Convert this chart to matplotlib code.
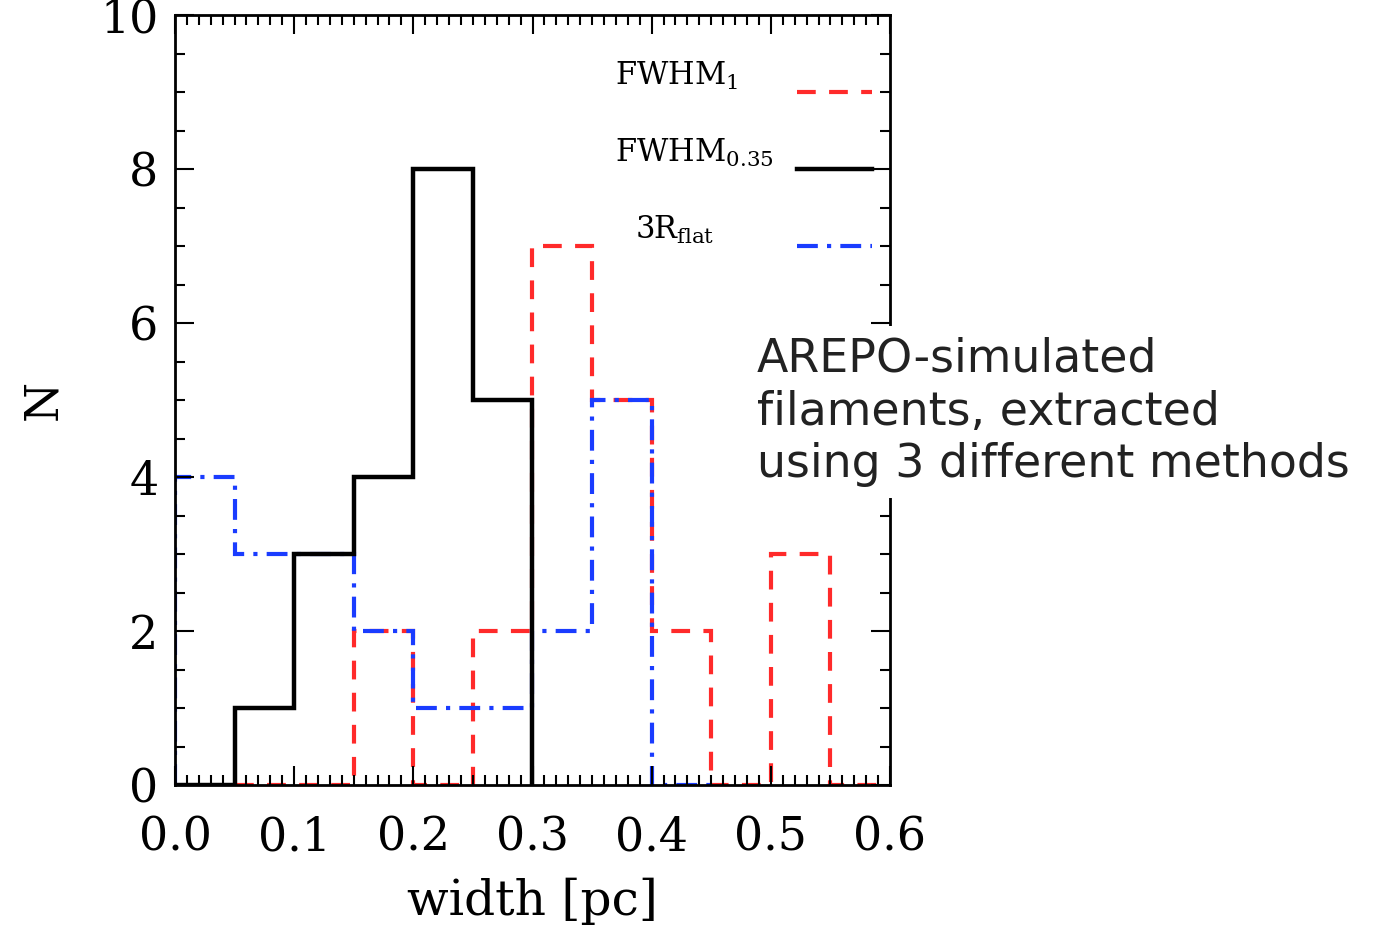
import numpy as np
import matplotlib.pyplot as plt
from matplotlib.ticker import MultipleLocator, FormatStrFormatter

# histogram counts (bin width 0.05 pc)
fwhm1_edges = [0.05, 0.10, 0.15, 0.20, 0.25, 0.30, 0.35, 0.40, 0.45, 0.50, 0.55, 0.60]
fwhm1_counts = [0, 0, 2, 0, 2, 7, 5, 2, 0, 3, 0]

fwhm035_edges = [0.0, 0.05, 0.10, 0.15, 0.20, 0.25, 0.30]
fwhm035_counts = [0, 1, 3, 4, 8, 5]

rflat_edges = [0.0, 0.05, 0.10, 0.15, 0.20, 0.25, 0.30, 0.35, 0.40, 0.45]
rflat_counts = [4, 3, 3, 2, 1, 1, 2, 5, 0]

plt.rcParams['mathtext.fontset'] = 'dejavuserif'
serif = 'DejaVu Serif'

fig = plt.figure(figsize=(13.75, 9.26), dpi=100)
ax = fig.add_axes([175/1375, 1 - 785/926, 715/1375, 770/926])

red = '#ff2a2a'
blue = '#1a3cff'
red_ls = (0, (4.5, 3.2))
blue_ls = (0, (5, 2.2, 1, 2.2))
lw_col = 3.0
lw_blk = 3.2

ax.stairs(fwhm1_counts, fwhm1_edges, baseline=0, color=red, lw=lw_col, linestyle=red_ls)
ax.stairs(rflat_counts, rflat_edges, baseline=0, color=blue, lw=lw_col, linestyle=blue_ls)
ax.stairs(fwhm035_counts, fwhm035_edges, baseline=0, color='black', lw=lw_blk)

ax.set_xlim(0, 0.6)
ax.set_ylim(0, 10)

# legend drawn by hand, IDL style
leg = [('FWHM$_1$', red, red_ls, 9.0, 0.369),
       ('FWHM$_{0.35}$', 'black', '-', 8.0, 0.369),
       ('3R$_{\\rm flat}$', blue, blue_ls, 7.0, 0.386)]
for lab, c, ls, yy, xt in leg:
    ax.plot([0.522, 0.585], [yy, yy], color=c, lw=lw_blk if c == 'black' else lw_col, linestyle=ls)
    ax.text(xt, yy + 0.09, lab, fontsize=22, family=serif, va='baseline', ha='left')

ax.xaxis.set_major_locator(MultipleLocator(0.1))
ax.xaxis.set_minor_locator(MultipleLocator(0.01))
ax.xaxis.set_major_formatter(FormatStrFormatter('%.1f'))
ax.yaxis.set_major_locator(MultipleLocator(2))
ax.yaxis.set_minor_locator(MultipleLocator(0.5))

ax.tick_params(which='both', direction='in', top=True, right=True, width=1.5)
ax.tick_params(which='major', length=14)
ax.tick_params(which='minor', length=7)
ax.tick_params(axis='x', labelsize=33, pad=22)
ax.tick_params(axis='y', labelsize=33, pad=12)
for lab in ax.get_xticklabels() + ax.get_yticklabels():
    lab.set_family(serif)
for sp in ax.spines.values():
    sp.set_linewidth(2)

ax.set_xlabel('width [pc]', fontsize=35, family=serif, labelpad=12)
ax.set_ylabel('N', fontsize=33, family=serif, labelpad=24)

fig.text(757/1375, 1 - 412/926, 'AREPO-simulated\nfilaments, extracted\nusing 3 different methods',
         fontsize=33, family='DejaVu Sans', ha='left', va='center', color='#222222',
         linespacing=1.22,
         bbox=dict(facecolor='white', edgecolor='none', pad=8))

fig.savefig('out.png', dpi=100)
